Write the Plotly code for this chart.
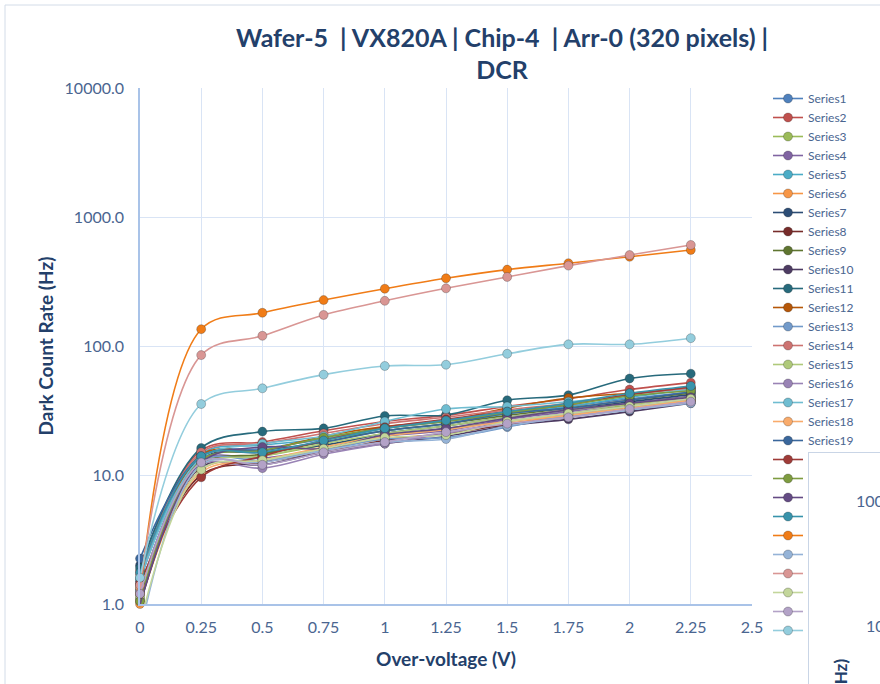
import plotly.graph_objects as go

# ---------------- data ----------------
voltages = [0, 0.25, 0.5, 0.75, 1.0, 1.25, 1.5, 1.75, 2.0, 2.25]

series_1 = [1.5, 14.0, 16.0, 19.0, 23.0, 26.0, 30.0, 34.0, 39.0, 44.0]
series_2 = [1.8, 15.5, 18.0, 22.0, 26.0, 29.0, 34.0, 39.0, 46.0, 52.0]
series_3 = [1.3, 12.5, 14.0, 17.0, 20.0, 23.0, 26.0, 30.0, 35.0, 40.0]
series_4 = [1.2, 13.0, 13.5, 16.0, 20.0, 22.0, 27.0, 31.0, 36.0, 41.0]
series_5 = [1.6, 14.5, 17.0, 19.0, 22.0, 25.0, 30.0, 34.0, 40.0, 46.0]
series_6 = [1.0, 11.0, 13.0, 16.0, 19.0, 21.0, 25.0, 29.0, 34.0, 38.0]
series_7 = [2.0, 13.5, 15.0, 17.0, 21.0, 24.0, 28.0, 32.0, 37.0, 42.0]
series_8 = [1.4, 10.0, 12.5, 15.0, 18.5, 21.0, 24.5, 28.0, 33.0, 37.0]
series_9 = [1.1, 12.0, 14.5, 18.0, 22.0, 25.0, 29.0, 33.0, 38.0, 43.0]
series_10 = [0.98, 11.5, 12.0, 15.0, 17.5, 20.0, 24.0, 27.0, 31.0, 36.0]
series_11 = [1.9, 16.2, 21.7, 23.0, 28.7, 29.2, 38.0, 41.6, 56.0, 61.0]
series_12 = [1.05, 14.3, 15.4, 20.0, 23.7, 26.3, 33.0, 39.5, 43.0, 47.0]
series_13 = [1.25, 12.8, 13.0, 15.5, 19.0, 19.5, 23.5, 29.0, 32.0, 38.0]
series_14 = [1.7, 15.0, 17.5, 21.0, 25.0, 28.0, 32.0, 36.0, 42.0, 47.0]
series_15 = [1.15, 11.8, 14.0, 17.5, 21.0, 24.0, 28.0, 32.0, 35.5, 40.0]
series_16 = [1.3, 12.0, 11.3, 14.5, 17.5, 21.0, 26.0, 30.0, 34.0, 39.0]
series_17 = [1.55, 13.5, 17.5, 20.0, 26.0, 32.5, 34.0, 37.0, 41.0, 46.0]
series_18 = [1.35, 10.5, 13.0, 16.5, 20.0, 22.5, 26.0, 29.0, 33.0, 38.0]
series_19 = [2.25, 14.0, 15.5, 18.0, 22.0, 25.0, 30.0, 33.0, 38.0, 44.0]
series_20 = [1.45, 9.6, 14.0, 18.5, 23.5, 27.0, 31.0, 35.0, 42.0, 48.0]
series_21 = [1.05, 13.0, 15.5, 19.5, 23.0, 26.0, 30.5, 35.0, 41.0, 45.0]
series_22 = [0.99, 12.5, 16.5, 16.0, 20.5, 23.0, 27.5, 32.0, 36.0, 40.0]
series_23 = [1.75, 14.0, 15.0, 18.5, 23.0, 26.5, 31.0, 36.0, 43.0, 49.0]
series_24 = [1.2, 135.0, 181.0, 227.0, 278.0, 335.0, 391.0, 438.0, 492.0, 555.0]
series_25 = [0.6, 12.0, 12.5, 15.5, 18.0, 19.0, 24.0, 28.0, 32.0, 36.0]
series_26 = [1.4, 85.0, 120.0, 174.0, 224.0, 280.0, 343.0, 420.0, 507.0, 607.0]
series_27 = [0.7, 11.0, 13.0, 16.0, 19.5, 20.4, 26.0, 30.0, 34.0, 39.0]
series_28 = [1.2, 12.5, 12.0, 15.0, 18.0, 21.5, 25.0, 28.0, 32.5, 37.0]
series_29 = [1.6, 35.5, 47.0, 60.0, 70.0, 71.6, 87.0, 103.0, 103.0, 115.0]

series_values = [series_1, series_2, series_3, series_4, series_5, series_6,
                 series_7, series_8, series_9, series_10, series_11, series_12,
                 series_13, series_14, series_15, series_16, series_17, series_18,
                 series_19, series_20, series_21, series_22, series_23, series_24,
                 series_25, series_26, series_27, series_28, series_29]
series_names = ["Series%d" % (i + 1) for i in range(len(series_values))]

x_tick_values = [0, 0.25, 0.5, 0.75, 1.0, 1.25, 1.5, 1.75, 2.0, 2.25, 2.5]
x_tick_labels = ["0", "0.25", "0.5", "0.75", "1", "1.25", "1.5", "1.75", "2", "2.25", "2.5"]
y_tick_values = [1, 10, 100, 1000, 10000]
y_tick_labels = ["1.0", "10.0", "100.0", "1000.0", "10000.0"]

# ---------------- styles ----------------
colors = ["#4F81BD", "#C0504D", "#9BBB59", "#8064A2", "#4BACC6", "#F79646",
          "#2C4D75", "#772C2A", "#5F7530", "#4D3B62", "#276A7C", "#B65708",
          "#729ACA", "#CD7371", "#AFC97A", "#9983B5", "#6FBDD1", "#F9AB6B",
          "#3A679C", "#9F3B38", "#7E9C40", "#644B84", "#3893AB", "#F07C17",
          "#95B3D7", "#D99694", "#C3D69B", "#B3A2C7", "#93CDDD"]

FONT = "Lato"
NAVY = "#23406A"
TICK = "#4A6590"
GRID = "#D9E4F5"
AXIS = "#A9C3E8"

fig = go.Figure()
for name, vals, col in zip(series_names, series_values, colors):
    fig.add_trace(go.Scatter(
        x=voltages, y=vals, name=name, mode="lines+markers",
        line=dict(color=col, width=1.6, shape="spline", smoothing=1.0),
        marker=dict(color=col, size=9, line=dict(color="rgba(40,40,40,0.35)", width=0.8)),
        cliponaxis=min(vals) < 0.95,
    ))

fig.update_layout(
    width=880, height=684,
    margin=dict(l=140, r=128, t=88, b=80),
    paper_bgcolor="white", plot_bgcolor="white",
    font=dict(family=FONT, color=TICK),
    title=dict(
        text="Wafer-5  | VX820A | Chip-4  | Arr-0 (320 pixels) |<br>DCR",
        x=502 / 880, xanchor="center",
        y=1 - 46.5 / 684, yanchor="middle",
        font=dict(family=FONT, size=25, color=NAVY, weight="bold"),
    ),
    legend=dict(
        x=(768 - 140) / 612, xanchor="left",
        y=(604 - 84) / 516, yanchor="top",
        font=dict(family=FONT, size=12, color=TICK),
        bgcolor="rgba(0,0,0,0)", borderwidth=0,
        maxheight=640,
    ),
    xaxis=dict(
        range=[0, 2.5], tickvals=x_tick_values, ticktext=x_tick_labels,
        showgrid=True, gridcolor=GRID, gridwidth=1,
        showline=True, linecolor=AXIS, linewidth=1.5, mirror=False,
        zeroline=False, ticks="", ticklabelstandoff=8,
        tickfont=dict(family=FONT, size=16, color=TICK),
        title=dict(text="Over-voltage (V)", standoff=18,
                   font=dict(family=FONT, size=19, color=NAVY, weight="bold")),
    ),
    yaxis=dict(
        type="log", range=[0, 4], tickvals=y_tick_values, ticktext=y_tick_labels,
        showgrid=True, gridcolor=GRID, gridwidth=1,
        showline=True, linecolor=AXIS, linewidth=1.5,
        zeroline=False, ticks="", ticklabelstandoff=11,
        tickfont=dict(family=FONT, size=16, color=TICK),
        title=dict(text="Dark Count Rate (Hz)", standoff=6,
                   font=dict(family=FONT, size=19, color=NAVY, weight="bold")),
    ),
)

# outer chart-area border of the screenshot
fig.add_shape(type="rect", xref="paper", yref="paper",
              x0=(5 - 140) / 612, x1=(900 - 140) / 612,
              y0=(604 - 720) / 516, y1=(604 - 5) / 516,
              line=dict(color="#D3DCE8", width=1), layer="below")

# neighbouring Excel chart that overlaps the screenshot at bottom-right
fig.add_annotation(xref="paper", yref="paper",
                   x=(808 - 140) / 612, xanchor="left",
                   y=(604 - 452) / 516, yanchor="top",
                   text=" ", width=110, height=260, showarrow=False,
                   bgcolor="white", bordercolor="#C9D5E6", borderwidth=1)
fig.add_annotation(xref="paper", yref="paper",
                   x=(854 - 140) / 612, xanchor="left",
                   y=(604 - 500) / 516, yanchor="middle",
                   text="100", showarrow=False,
                   font=dict(family=FONT, size=16, color=TICK))
fig.add_annotation(xref="paper", yref="paper",
                   x=(864 - 140) / 612, xanchor="left",
                   y=(604 - 625) / 516, yanchor="middle",
                   text="10", showarrow=False,
                   font=dict(family=FONT, size=16, color=TICK))
fig.add_annotation(xref="paper", yref="paper",
                   x=(840 - 140) / 612, xanchor="center",
                   y=(604 - 657) / 516, yanchor="top",
                   text="Dark Count Rate (Hz)", textangle=-90, showarrow=False,
                   font=dict(family=FONT, size=17, color=NAVY, weight="bold"))

fig.write_html("out.html")
